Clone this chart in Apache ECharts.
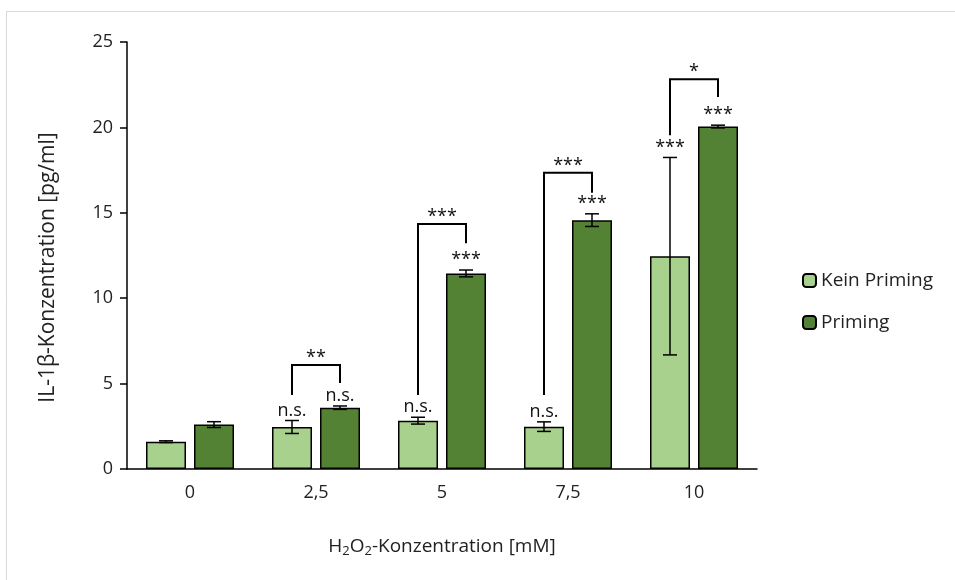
<!DOCTYPE html>
<html>
<head>
<meta charset="utf-8">
<script src="https://cdn.jsdelivr.net/npm/echarts@6/dist/echarts.min.js"></script>
<style>
  html, body { margin: 0; padding: 0; background: #fff; }
  #chart { width: 955px; height: 580px; }
</style>
</head>
<body>
<div id="chart"></div>
<script>
// data
const categories = ['0', '2,5', '5', '7,5', '10'];
const keinPriming = [1.6, 2.46, 2.83, 2.48, 12.46];
const keinPrimingErr = [0.05, 0.38, 0.2, 0.28, 5.78];
const keinPrimingSig = ['', 'n.s.', 'n.s.', 'n.s.', '***'];
const priming = [2.6, 3.59, 11.45, 14.57, 20.05];
const primingErr = [0.17, 0.1, 0.2, 0.37, 0.08];
const primingSig = ['', 'n.s.', '***', '***', '***'];
// brackets between the two bars: [category, top, left leg end, right leg end, label]
const brackets = [
  [1, 6.09, 4.33, 5.03, '**'],
  [2, 14.34, 4.33, 13.22, '***'],
  [3, 17.34, 4.33, 16.17, '***'],
  [4, 22.82, 19.54, 21.78, '*']
];

const FONT = '"Open Sans", sans-serif';
const BAR_W = 40;
const BAR_GAP = 8;
const SHIFT = (BAR_W + BAR_GAP) / 2;

function errSeries(values, errs, sig, side) {
  const data = values.map((v, i) => [i, v, errs[i], sig[i]]);
  return {
    type: 'custom',
    silent: true,
    z: 5,
    data: data,
    renderItem: function (params, api) {
      const idx = api.value(0);
      const v = api.value(1);
      const e = api.value(2);
      const lbl = data[params.dataIndex][3];
      const hi = api.coord([idx, v + e]);
      const lo = api.coord([idx, v - e]);
      const x = hi[0] + side * SHIFT;
      const cap = 7;
      const st = { stroke: '#000', lineWidth: 1.5 };
      const children = [
        { type: 'line', shape: { x1: x, y1: hi[1], x2: x, y2: lo[1] }, style: st },
        { type: 'line', shape: { x1: x - cap, y1: hi[1], x2: x + cap, y2: hi[1] }, style: st },
        { type: 'line', shape: { x1: x - cap, y1: lo[1], x2: x + cap, y2: lo[1] }, style: st }
      ];
      if (lbl) {
        children.push({
          type: 'text',
          style: {
            x: x, y: hi[1] - 1, text: lbl,
            align: 'center', verticalAlign: 'bottom',
            fontFamily: FONT, fontSize: 18, fill: '#111'
          }
        });
      }
      return { type: 'group', children: children };
    }
  };
}

const chart = echarts.init(document.getElementById('chart'));
chart.setOption({
  backgroundColor: '#fff',
  animation: false,
  textStyle: { fontFamily: FONT },
  graphic: [{
    type: 'rect',
    shape: { x: 6.5, y: 11.5, width: 1000, height: 1000 },
    style: { fill: 'none', stroke: '#d9d9d9', lineWidth: 1 },
    silent: true
  }],
  grid: { left: 127, right: 198, top: 42, bottom: 111 },
  legend: {
    orient: 'vertical',
    left: 797,
    top: 266,
    itemWidth: 13,
    itemHeight: 13,
    itemGap: 23,
    textStyle: { fontSize: 19, color: '#222', fontFamily: FONT },
    data: ['Kein Priming', 'Priming']
  },
  xAxis: {
    type: 'category',
    data: categories,
    name: 'H{s|2}O{s|2}-Konzentration [mM]',
    nameLocation: 'middle',
    nameGap: 66,
    nameTextStyle: {
      fontSize: 19, color: '#222', fontFamily: FONT,
      rich: { s: { fontSize: 13, padding: [10, 0, 0, 0], fontFamily: FONT, color: '#222' } }
    },
    axisLine: { lineStyle: { color: '#000', width: 1.5 } },
    axisTick: { length: 7, lineStyle: { color: '#000', width: 1.5 } },
    axisLabel: { fontSize: 18, color: '#222', margin: 15 }
  },
  yAxis: {
    type: 'value',
    min: 0,
    max: 25,
    interval: 5,
    name: 'IL-1β-Konzentration [pg/ml]',
    nameLocation: 'middle',
    nameGap: 68,
    nameTextStyle: { fontSize: 21, color: '#222', fontFamily: FONT, padding: [0, 24, 0, 0] },
    axisLine: { show: true, lineStyle: { color: '#000', width: 1.5 } },
    axisTick: { show: true, length: 7, lineStyle: { color: '#000', width: 1.5 } },
    axisLabel: { fontSize: 18, color: '#222', margin: 14 },
    splitLine: { show: false }
  },
  series: [
    {
      name: 'Kein Priming',
      type: 'bar',
      data: keinPriming,
      barWidth: BAR_W,
      barGap: '20%',
      itemStyle: { color: '#a9d18e', borderColor: '#000', borderWidth: 1.5 }
    },
    {
      name: 'Priming',
      type: 'bar',
      data: priming,
      barWidth: BAR_W,
      barGap: '20%',
      itemStyle: { color: '#548235', borderColor: '#000', borderWidth: 1.5 }
    },
    errSeries(keinPriming, keinPrimingErr, keinPrimingSig, -1),
    errSeries(priming, primingErr, primingSig, 1),
    {
      type: 'custom',
      silent: true,
      z: 6,
      data: brackets,
      renderItem: function (params, api) {
        const b = brackets[params.dataIndex];
        const top = api.coord([b[0], b[1]]);
        const l = api.coord([b[0], b[2]]);
        const r = api.coord([b[0], b[3]]);
        const xl = top[0] - SHIFT;
        const xr = top[0] + SHIFT;
        return {
          type: 'group',
          children: [
            {
              type: 'polyline',
              shape: { points: [[xl, l[1]], [xl, top[1]], [xr, top[1]], [xr, r[1]]] },
              style: { stroke: '#000', lineWidth: 2, fill: 'none' }
            },
            {
              type: 'text',
              style: {
                x: top[0], y: top[1] + 2, text: b[4],
                align: 'center', verticalAlign: 'bottom',
                fontFamily: FONT, fontSize: 18, fill: '#111'
              }
            }
          ]
        };
      }
    }
  ]
});
</script>
</body>
</html>
